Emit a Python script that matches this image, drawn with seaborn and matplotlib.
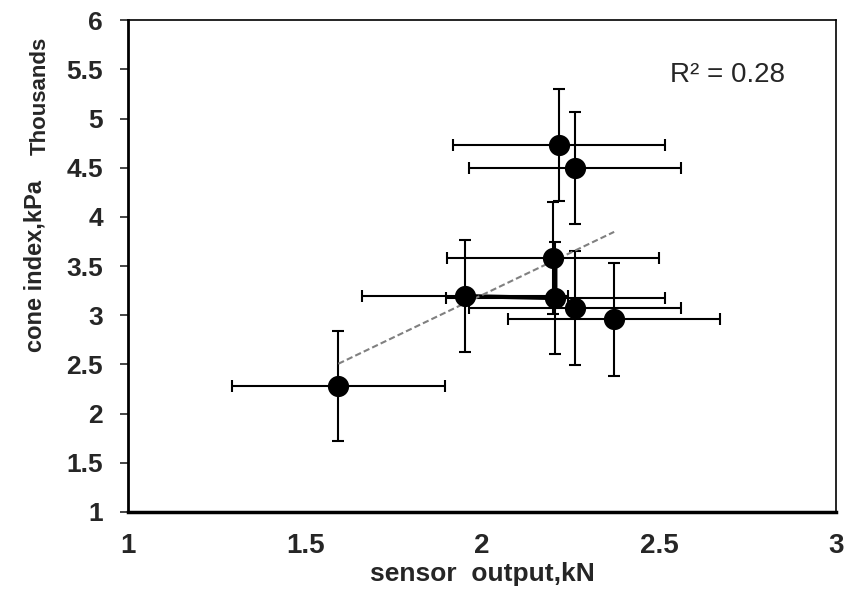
import numpy as np
import pandas as pd
import matplotlib
matplotlib.use('Agg')
import matplotlib.pyplot as plt
import seaborn as sns

# datos (cono en miles de kPa)
sensor_kn = [1.594, 1.952, 2.207, 2.200, 2.218, 2.263, 2.263, 2.373]
cone_kpa = [2.28, 3.195, 3.175, 3.58, 4.73, 4.50, 3.07, 2.96]
err_x = [0.30, 0.29, 0.31, 0.30, 0.30, 0.30, 0.30, 0.30]
err_y = [0.56, 0.57, 0.57, 0.57, 0.57, 0.57, 0.58, 0.575]

# tramo grueso que une tres puntos
tramo_x = [1.952, 2.207, 2.207]
tramo_y = [3.195, 3.175, 3.58]

df = pd.DataFrame({'sensor': sensor_kn, 'cone': cone_kpa})
tramo = pd.DataFrame({'sensor': tramo_x, 'cone': tramo_y})

sns.set_style('white')
plt.rcParams['font.family'] = ['Liberation Sans', 'DejaVu Sans']

fig = plt.figure(figsize=(8.48, 5.96), dpi=100)
ax = fig.add_axes([0.151, 0.141, 0.835, 0.825])

ax.errorbar(df['sensor'], df['cone'], xerr=err_x, yerr=err_y, fmt='none',
            ecolor='black', elinewidth=1.5, capsize=4, capthick=1.5, zorder=2)
sns.lineplot(data=tramo, x='sensor', y='cone', sort=False, estimator=None,
             color='black', linewidth=3, ax=ax, zorder=3)
sns.regplot(data=df, x='sensor', y='cone', scatter=False, ci=None, ax=ax,
            line_kws={'color': '#808080', 'linestyle': (0, (3, 1.5)), 'linewidth': 1.5, 'zorder': 4})
sns.scatterplot(data=df, x='sensor', y='cone', color='black', s=200,
                edgecolor='black', ax=ax, zorder=5)

ax.set_xlim(1, 3)
ax.set_ylim(1, 6)
ax.set_xticks([1, 1.5, 2, 2.5, 3])
ax.set_xticklabels(['1', '1.5', '2', '2.5', '3'], fontsize=20, fontweight='bold')
ax.set_yticks([1, 1.5, 2, 2.5, 3, 3.5, 4, 4.5, 5, 5.5, 6])
ax.set_yticklabels(['1', '1.5', '2', '2.5', '3', '3.5', '4', '4.5', '5', '5.5', '6'],
                   fontsize=19, fontweight='bold')
ax.tick_params(axis='x', length=0, pad=15)
ax.tick_params(axis='y', length=6, width=1.2, direction='out', left=True, pad=12)

for s in ax.spines.values():
    s.set_color('black')
    s.set_linewidth(1.2)
ax.spines['left'].set_linewidth(2)
ax.spines['bottom'].set_linewidth(2.5)

ax.set_xlabel('sensor  output,kN', fontsize=19, fontweight='bold', labelpad=2)
ax.set_ylabel('cone index,kPa', fontsize=17, fontweight='bold', labelpad=14)
fig.text(0.047, 0.839, 'Thousands', rotation=90, fontsize=16, fontweight='bold',
         ha='center', va='center')
ax.text(2.532, 5.44, 'R² = 0.28', fontsize=20, ha='left', va='center')

fig.savefig('out.png', dpi=100)
